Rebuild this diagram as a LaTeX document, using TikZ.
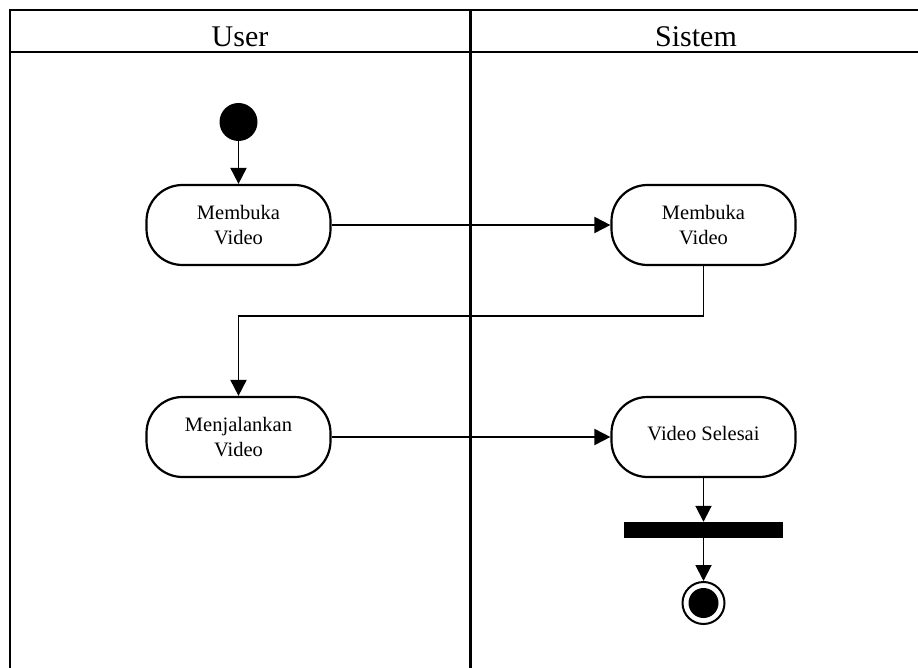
\documentclass[tikz,border=0pt]{standalone}
\usepackage{fontspec}
\setmainfont{Liberation Serif}
\usetikzlibrary{arrows.meta}
\begin{document}
\begin{tikzpicture}[x=1pt,y=-1pt,
  lane/.style={line width=2.2pt, line cap=rect},
  actbox/.style={draw, line width=2.2pt, rounded corners=36pt, minimum width=184pt, minimum height=80pt, align=center, font=\fontsize{20.5}{25}\selectfont, inner sep=0pt},
  conn/.style={line width=1.9pt, -{Triangle[length=16pt,width=16pt]}},
  hdr/.style={font=\fontsize{30}{34}\selectfont, anchor=base, inner sep=0pt}
]
\useasboundingbox (0,0) rectangle (918,668);
\clip (0,0) rectangle (918,668);
% swimlane frame
\draw[lane] (10,10) -- (930,10);
\draw[lane] (10,52) -- (930,52);
\draw[lane] (10,10) -- (10,680);
\draw[lane] (470.5,10) -- (470.5,680);
\node[hdr] (hUser) at (240,46.5) {User};
\node[hdr] (hSistem) at (696,46.5) {Sistem};
% nodes
\node[circle, fill=black, minimum size=38pt, inner sep=0pt] (start) at (238.5,122) {};
\node[actbox] (b1) at (238.5,225) {Membuka\\Video};
\node[actbox] (b2) at (703.5,225) {Membuka\\Video};
\node[actbox] (b3) at (238.5,437) {Menjalankan\\Video};
\node[actbox] (b4) at (703.5,437) {\raisebox{7pt}{Video Selesai}};
\node[fill=black, minimum width=159pt, minimum height=16pt, inner sep=0pt] (bar) at (703,530) {};
\node[circle, draw, line width=2pt, minimum size=42pt, inner sep=0pt] (end) at (703.5,603) {};
\node[circle, fill=black, minimum size=30pt, inner sep=0pt] (endin) at (end.center) {};
\coordinate (elb) at (703.5,316);
% connectors
\draw[conn] (start) -- (b1.north);
\draw[conn] (b1.east) -- (b2.west);
\draw[conn] (b2.south) -- (elb) -| (b3.north);
\draw[conn] (b3.east) -- (b4.west);
\draw[conn] (b4.south) -- (bar.north -| b4.south);
\draw[conn] (bar.south -| end.north) -- (end.north);
\end{tikzpicture}
\end{document}
